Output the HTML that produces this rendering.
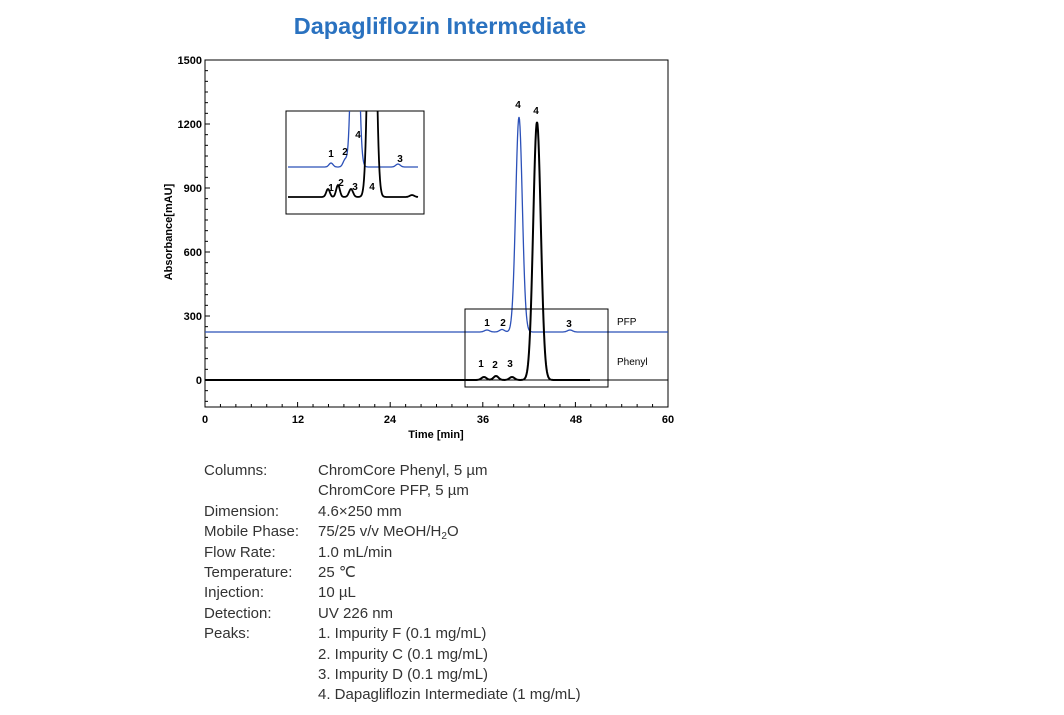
<!DOCTYPE html>
<html><head><meta charset="utf-8"><style>
body{margin:0;background:#fff;width:1064px;height:715px;overflow:hidden;position:relative;font-family:"Liberation Sans",sans-serif}
.t{position:absolute;left:0;width:880px;text-align:center;top:13px;font-size:23.5px;font-weight:bold;color:#2a72c0}
.info{position:absolute;left:204px;top:461px;font-size:15px;color:#333;line-height:20.4px}
.info div{white-space:nowrap;height:20.4px}
.info span{display:inline-block;width:114px}
sub{font-size:10px;line-height:0;vertical-align:-3px}
</style></head><body>
<div class="t">Dapagliflozin Intermediate</div>
<svg width="1064" height="715" style="position:absolute;left:0;top:0" font-family="Liberation Sans, sans-serif">
<defs><clipPath id="ic"><rect x="286" y="111" width="138" height="103"/></clipPath></defs>
<g id="ax" stroke="#000" fill="none"></g>
<rect x="205" y="60" width="463" height="347" fill="none" stroke="#000" stroke-width="1"/>
<g font-size="11" font-weight="bold" text-anchor="end">
<text x="202" y="64">1500</text><text x="202" y="128">1200</text><text x="202" y="192">900</text><text x="202" y="256">600</text><text x="202" y="320">300</text><text x="202" y="384">0</text>
</g>
<g font-size="11" font-weight="bold" text-anchor="middle">
<text x="205" y="423">0</text><text x="298" y="423">12</text><text x="390" y="423">24</text><text x="483" y="423">36</text><text x="576" y="423">48</text><text x="668" y="423">60</text>
<text x="436" y="438">Time [min]</text>
</g>
<text transform="translate(172,232) rotate(-90)" font-size="11" font-weight="bold" text-anchor="middle">Absorbance[mAU]</text>
<line x1="205" y1="380" x2="668" y2="380" stroke="#000" stroke-width="1"/>
<path id="blue" fill="none" stroke="#2b50b8" stroke-width="1.3"/>
<path id="black" fill="none" stroke="#000" stroke-width="2"/>
<rect x="465" y="309" width="143" height="78" fill="none" stroke="#000"/>
<rect x="286" y="111" width="138" height="103" fill="none" stroke="#000"/>
<g clip-path="url(#ic)"><path id="ib" fill="none" stroke="#2b50b8" stroke-width="1.3"/><path id="ik" fill="none" stroke="#000" stroke-width="1.8"/></g>
<g font-size="10" font-weight="bold" text-anchor="middle">
<text x="518" y="108">4</text><text x="536" y="114">4</text>
<text x="487" y="326">1</text><text x="503" y="326">2</text><text x="569" y="327">3</text>
<text x="481" y="367">1</text><text x="495" y="368">2</text><text x="510" y="367">3</text>
<text x="331" y="157">1</text><text x="345" y="155">2</text><text x="358" y="138">4</text><text x="400" y="162">3</text>
<text x="331" y="191">1</text><text x="341" y="186">2</text><text x="355" y="190">3</text><text x="372" y="190">4</text>
</g>
<g font-size="10"><text x="617" y="325">PFP</text><text x="617" y="365">Phenyl</text></g>
</svg>
<div class="info">
<div><span>Columns:</span>ChromCore Phenyl, 5 µm</div>
<div><span></span>ChromCore PFP, 5 µm</div>
<div><span>Dimension:</span>4.6×250 mm</div>
<div><span>Mobile Phase:</span>75/25 v/v MeOH/H<sub>2</sub>O</div>
<div><span>Flow Rate:</span>1.0 mL/min</div>
<div><span>Temperature:</span>25 ℃</div>
<div><span>Injection:</span>10 µL</div>
<div><span>Detection:</span>UV 226 nm</div>
<div><span>Peaks:</span>1. Impurity F (0.1 mg/mL)</div>
<div><span></span>2. Impurity C (0.1 mg/mL)</div>
<div><span></span>3. Impurity D (0.1 mg/mL)</div>
<div><span></span>4. Dapagliflozin Intermediate (1 mg/mL)</div>
</div>
<script>
function g(x,c,s,h){return h*Math.exp(-(x-c)*(x-c)/(2*s*s));}
function mk(x0,x1,base,peaks){var d="";for(var x=x0;x<=x1;x+=0.5){var y=base;peaks.forEach(function(p){y-=g(x,p[0],p[1],p[2]);});d+=(x==x0?"M":"L")+x.toFixed(1)+" "+y.toFixed(1);}return d;}
document.getElementById("blue").setAttribute("d",mk(205,668,332,[[519,3.3,215],[487,2.5,2],[502,2.5,2.5],[570,2.5,2]]));
document.getElementById("black").setAttribute("d",mk(205,590,380,[[537,3.8,258],[484,2.5,3],[496,2.5,4],[512,2.5,3]]));
document.getElementById("ib").setAttribute("d",mk(288,418,167,[[355,3,300],[331,2,4],[345,2,7],[398,2.2,3]]));
document.getElementById("ik").setAttribute("d",mk(288,418,197,[[372,3.2,400],[328,1.8,8],[338,1.8,12],[351,2,8],[412,2.2,2]]));
var a=document.getElementById("ax"),s="";
for(var v=-100;v<=1500;v+=50){var y=380-v*64/300;var L=(v%300==0)?5:3;s+='<line x1="205" x2="'+(205+L)+'" y1="'+y+'" y2="'+y+'"/>';}
for(var t=0;t<=60;t+=2){var x=205+t*463/60;var L=(t%12==0)?5:3;s+='<line x1="'+x+'" x2="'+x+'" y1="407" y2="'+(407-L)+'"/>';}
a.innerHTML=s;
</script>
</body></html>
